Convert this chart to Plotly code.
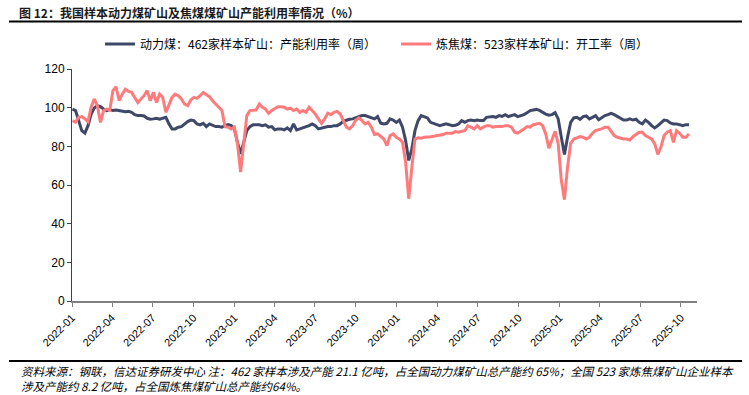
import pandas as pd
import plotly.graph_objects as go

dates = pd.date_range("2022-01-02", periods=199, freq="7D")

thermal = [
    99.3, 98.5, 93.3, 88.1, 86.8, 90.7, 96.7, 99.8, 101.0, 100.5,
    99.3, 98.5, 99.0, 98.5, 98.8, 98.5, 98.5, 97.9, 98.1, 97.6,
    96.4, 95.9, 95.9, 95.7, 94.5, 94.0, 94.2, 94.5, 94.0, 94.7,
    95.0, 91.6, 89.0, 89.0, 89.9, 90.2, 91.6, 92.8, 93.6, 93.3,
    91.6, 91.1, 91.9, 90.2, 91.6, 91.1, 90.2, 90.2, 89.9, 90.7,
    91.2, 90.7, 89.0, 82.1, 76.1, 82.1, 88.1, 90.2, 91.1, 91.1,
    91.1, 90.7, 91.1, 89.9, 90.2, 88.5, 89.0, 89.0, 88.5, 89.5,
    88.1, 91.6, 88.5, 89.0, 89.5, 89.9, 90.7, 91.6, 90.7, 89.0,
    89.5, 89.9, 90.2, 90.2, 90.7, 90.7, 91.6, 93.0, 93.6, 94.0,
    94.2, 94.7, 95.4, 95.9, 95.9, 95.4, 95.0, 94.2, 95.4, 92.0,
    91.6, 91.9, 94.2, 93.6, 92.4, 93.6, 89.9, 83.0, 72.7, 78.7,
    88.1, 93.3, 95.9, 95.4, 94.7, 92.4, 91.9, 91.6, 90.7, 91.2,
    91.6, 91.2, 90.7, 90.9, 91.6, 93.3, 92.4, 93.3, 93.6, 93.3,
    93.6, 93.3, 93.3, 95.0, 95.3, 95.4, 95.0, 95.9, 95.5, 96.4,
    95.4, 95.9, 96.4, 95.4, 95.9, 96.4, 97.4, 98.5, 98.8, 99.1,
    98.6, 97.6, 96.7, 96.1, 96.4, 97.4, 94.2, 84.7, 75.8, 84.7,
    92.4, 94.7, 95.0, 94.0, 95.4, 95.7, 94.2, 95.0, 95.9, 93.8,
    95.0, 95.9, 96.4, 97.1, 96.4, 95.4, 94.5, 93.6, 93.6, 94.2,
    93.6, 94.0, 92.4, 91.6, 93.6, 92.4, 90.7, 89.5, 90.7, 92.4,
    93.6, 93.3, 92.1, 91.6, 91.6, 91.2, 90.7, 91.2, 91.2,
]

coking = [
    93.3, 92.4, 95.0, 95.4, 94.2, 92.8, 100.2, 104.5, 101.0, 92.4,
    98.5, 99.3, 98.8, 108.8, 110.8, 103.6, 107.0, 109.6, 108.4, 107.9,
    105.3, 102.7, 104.5, 106.2, 108.8, 103.6, 107.9, 102.7, 107.0, 105.3,
    97.6, 101.9, 105.3, 107.0, 106.2, 104.5, 101.9, 101.0, 104.0, 105.3,
    104.8, 106.2, 107.9, 106.7, 105.7, 103.6, 101.9, 100.2, 98.5, 90.2,
    89.9, 89.0, 89.9, 81.3, 66.7, 81.3, 95.9, 98.5, 98.5, 98.8,
    101.9, 100.2, 99.3, 97.1, 98.5, 99.3, 100.5, 100.5, 100.2, 99.3,
    99.8, 98.5, 99.3, 97.6, 98.5, 97.6, 100.2, 98.5, 96.7, 94.2,
    91.9, 94.2, 97.1, 96.4, 97.6, 98.1, 96.7, 93.3, 89.9, 89.0,
    90.7, 93.6, 94.7, 93.3, 91.6, 92.4, 89.9, 86.1, 86.5, 85.1,
    83.8, 80.4, 85.6, 86.4, 84.7, 83.8, 82.1, 71.7, 52.9, 69.2,
    83.8, 84.4, 84.2, 84.7, 84.7, 85.0, 85.2, 85.6, 85.6, 86.1,
    86.8, 86.9, 86.8, 87.6, 87.3, 87.8, 88.1, 90.7, 89.9, 89.0,
    90.7, 89.0, 89.9, 90.7, 90.7, 89.9, 90.2, 90.2, 90.2, 90.7,
    90.7, 89.9, 87.3, 86.8, 88.1, 89.0, 90.2, 89.9, 91.2, 91.6,
    91.9, 90.7, 86.4, 79.0, 84.0, 87.8, 81.3, 62.4, 52.4, 69.2,
    81.6, 83.8, 84.4, 85.0, 84.7, 83.8, 84.7, 86.8, 88.1, 88.5,
    89.0, 89.9, 89.9, 87.8, 85.6, 84.7, 84.2, 83.8, 83.8, 83.3,
    85.0, 86.4, 87.3, 87.3, 85.6, 84.7, 83.8, 81.3, 75.8, 79.6,
    85.6, 87.3, 88.1, 82.1, 88.1, 86.8, 84.7, 84.7, 86.4,
]

name_thermal = "动力煤：462家样本矿山：产能利用率（周）"
name_coking = "炼焦煤：523家样本矿山：开工率（周）"
title_text = "图 12：我国样本动力煤矿山及焦煤煤矿山产能利用率情况（%）"
note_1 = "资料来源：钢联，信达证券研发中心 注：462 家样本涉及产能 21.1 亿吨，占全国动力煤矿山总产能约 65%；全国 523 家炼焦煤矿山企业样本"
note_2 = "涉及产能约 8.2 亿吨，占全国炼焦煤矿山总产能约64%。"
y_ticks = [0, 20, 40, 60, 80, 100, 120]

FONT = "Liberation Sans, Noto Sans CJK SC, sans-serif"
CJK = "Noto Sans CJK SC, Liberation Sans, sans-serif"

fig = go.Figure()
fig.add_trace(go.Scatter(x=dates, y=thermal, mode="lines", name=name_thermal,
                         line=dict(color="#3E4868", width=3)))
fig.add_trace(go.Scatter(x=dates, y=coking, mode="lines", name=name_coking,
                         line=dict(color="#FF7B7B", width=3)))

W, H = 749, 395
L, R, T, B = 72, 52, 69, 94
pw, ph = W - L - R, H - T - B

def px(x):
    return (x - L) / pw

def py(y):
    return (H - B - y) / ph

fig.update_layout(
    width=W, height=H, autosize=False,
    margin=dict(l=L, r=R, t=T, b=B),
    paper_bgcolor="white", plot_bgcolor="white",
    font=dict(family=FONT, size=11, color="#000000"),
    showlegend=True,
    legend=dict(orientation="h", x=px(100), xanchor="left", y=py(44), yanchor="middle",
                font=dict(family=CJK, size=12, color="#000000"),
                entrywidth=251, entrywidthmode="pixels", itemwidth=30,
                bgcolor="rgba(0,0,0,0)"),
    xaxis=dict(type="date", range=["2022-01-01", "2025-11-06"],
               tick0="2022-01-01", dtick="M3", tickformat="%Y-%m",
               tickangle=-45, ticks="outside", ticklen=4, tickcolor="#808080",
               showline=True, linecolor="#808080", linewidth=2,
               showgrid=False, zeroline=False,
               tickfont=dict(family=FONT, size=11, color="#000000")),
    yaxis=dict(range=[0, 120], tickvals=y_ticks, ticks="outside", ticklen=4,
               tickcolor="#404040", showline=True, linecolor="#404040", linewidth=1,
               showgrid=False, zeroline=False,
               tickfont=dict(family=FONT, size=12, color="#000000")),
)

fig.add_annotation(text="<b>" + title_text + "</b>", xref="paper", yref="paper",
                   x=px(17), y=py(12), xanchor="left", yanchor="middle", showarrow=False,
                   font=dict(family=CJK, size=12, color="#1A1A1A"))
fig.add_shape(type="line", xref="paper", yref="paper", x0=px(9), x1=px(742),
              y0=py(21.5), y1=py(21.5), line=dict(color="#000000", width=2))
fig.add_shape(type="line", xref="paper", yref="paper", x0=px(9), x1=px(742),
              y0=py(361), y1=py(361), line=dict(color="#000000", width=2))
fig.add_annotation(text="<i>" + note_1 + "</i>", xref="paper", yref="paper",
                   x=px(19), y=py(371), xanchor="left", yanchor="middle", showarrow=False,
                   font=dict(family=CJK, size=11.5, color="#000000"))
fig.add_annotation(text="<i>" + note_2 + "</i>", xref="paper", yref="paper",
                   x=px(19), y=py(386), xanchor="left", yanchor="middle", showarrow=False,
                   font=dict(family=CJK, size=11.5, color="#000000"))

fig.write_html("out.html",
               config={"displayModeBar": False},
               post_script="document.body.style.margin='0px';document.body.style.overflow='hidden';")
